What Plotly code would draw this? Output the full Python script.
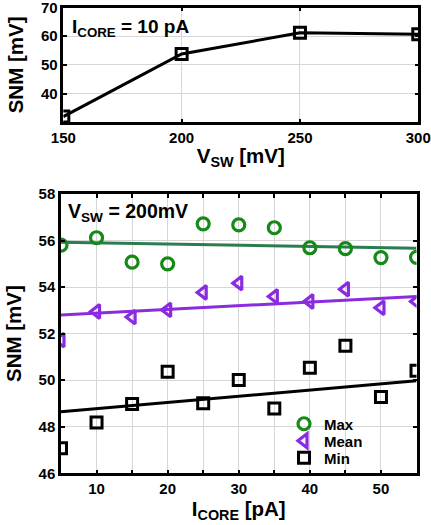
import plotly.graph_objects as go

# ---- data: top panel (I_CORE = 10 pA)
vsw_mv = [150, 200, 250, 300]
snm_vs_vsw = [32.0, 53.8, 61.2, 60.7]

# ---- data: bottom panel (V_SW = 200 mV)
icore_pa = [5, 10, 15, 20, 25, 30, 35, 40, 45, 50, 55]
snm_max = [55.80, 56.12, 55.07, 55.00, 56.72, 56.67, 56.55, 55.69, 55.65, 55.27, 55.28]
snm_mean = [51.72, 52.95, 52.71, 53.02, 53.77, 54.17, 53.60, 53.38, 53.91, 53.11, 53.38]
snm_min = [47.08, 48.18, 48.98, 50.36, 49.01, 50.01, 48.78, 50.53, 51.48, 49.28, 50.41]

# linear trend lines (end points)
fit_x = [5, 55]
fit_max = [55.93, 55.67]
fit_mean = [52.80, 53.60]
fit_min = [48.64, 49.98]

FONT = "Liberation Sans"
GREEN = "#168a16"
GREEN_LINE = "#2b7d4f"
PURPLE = "#8a2be2"
GRID = "#d6d6d6"

fig = go.Figure()

fig.add_trace(go.Scatter(
    x=vsw_mv, y=snm_vs_vsw, mode="lines+markers", xaxis="x", yaxis="y",
    line=dict(color="black", width=3),
    marker=dict(symbol="square-open", size=11, color="black", line=dict(width=3)),
    showlegend=False))

# trend lines
fig.add_trace(go.Scatter(x=fit_x, y=fit_max, mode="lines", xaxis="x2", yaxis="y2",
                         line=dict(color=GREEN_LINE, width=3), showlegend=False))
fig.add_trace(go.Scatter(x=fit_x, y=fit_mean, mode="lines", xaxis="x2", yaxis="y2",
                         line=dict(color=PURPLE, width=3), showlegend=False))
fig.add_trace(go.Scatter(x=fit_x, y=fit_min, mode="lines", xaxis="x2", yaxis="y2",
                         line=dict(color="black", width=3), showlegend=False))

fig.add_trace(go.Scatter(
    x=icore_pa, y=snm_max, mode="markers", name="Max", xaxis="x2", yaxis="y2",
    legend="legend",
    marker=dict(symbol="circle-open", size=12, color=GREEN, line=dict(width=3.2))))
fig.add_trace(go.Scatter(
    x=icore_pa, y=snm_mean, mode="markers", name="Mean", xaxis="x2", yaxis="y2",
    legend="legend2",
    marker=dict(symbol="triangle-left-open", size=12, color=PURPLE, line=dict(width=3.2))))
fig.add_trace(go.Scatter(
    x=icore_pa, y=snm_min, mode="markers", name="Min", xaxis="x2", yaxis="y2",
    legend="legend3",
    marker=dict(symbol="square-open", size=11, color="black", line=dict(width=3))))

tickfont = dict(family=FONT, size=15, color="black", weight="bold")
titlefont = dict(family=FONT, size=20.5, color="black", weight="bold")
common = dict(showline=True, linecolor="black", linewidth=2.5, mirror="ticks",
              ticks="inside", ticklen=4, tickwidth=2, tickcolor="black",
              showgrid=True, gridcolor=GRID, gridwidth=1, zeroline=False,
              tickfont=tickfont, automargin=False, ticklabeloverflow="allow")

legfont = dict(family=FONT, size=15, color="black", weight="bold")
def leg(ypx):
    return dict(x=284 / 431, y=1 - ypx / 525, xanchor="left", yanchor="middle",
                bgcolor="rgba(0,0,0,0)", itemwidth=30, font=legfont,
                borderwidth=0)

fig.update_layout(
    width=431, height=525,
    margin=dict(l=0, r=0, t=0, b=0),
    paper_bgcolor="white", plot_bgcolor="white",
    font=dict(family=FONT, color="black"),
    xaxis=dict(domain=[0.1469, 0.9705], range=[150, 300], tickvals=[150, 200, 250, 300],
               title=dict(text="V<sub>SW</sub> [mV]", font=titlefont, standoff=4),
               anchor="y", **common),
    yaxis=dict(domain=[0.767, 0.9857], range=[30, 70], tickvals=[40, 50, 60, 70],
               title=dict(text="SNM [mV]", font=titlefont, standoff=12),
               anchor="x", **common),
    xaxis2=dict(domain=[0.1415, 0.9664], range=[5, 55], tickvals=[10, 20, 30, 40, 50],
                minor=dict(dtick=5, tick0=0, showgrid=True, gridcolor=GRID, ticks="inside",
                           ticklen=4, tickwidth=2, tickcolor="black"),
                title=dict(text="I<sub>CORE</sub> [pA]", font=titlefont, standoff=0),
                anchor="y2", **common),
    yaxis2=dict(domain=[0.0985, 0.6305], range=[46, 58], tickvals=[46, 48, 50, 52, 54, 56, 58],
                title=dict(text="SNM [mV]", font=titlefont, standoff=12),
                anchor="x2", **common),
    legend=leg(424),
    legend2=leg(441),
    legend3=leg(458),
    annotations=[
        dict(text="<b>I<sub>CORE</sub> = 10 pA</b>", xref="paper", yref="paper",
             x=70 / 431, y=1 - 28 / 525, xanchor="left", yanchor="middle",
             showarrow=False, font=dict(family=FONT, size=19, color="black")),
        dict(text="<b>V<sub>SW</sub> = 200mV</b>", xref="paper", yref="paper",
             x=66 / 431, y=1 - 212 / 525, xanchor="left", yanchor="middle",
             showarrow=False, font=dict(family=FONT, size=19.5, color="black")),
    ],
)

fig.write_html("out.html", config={"displayModeBar": False},
               post_script="document.body.style.margin='0px';")
